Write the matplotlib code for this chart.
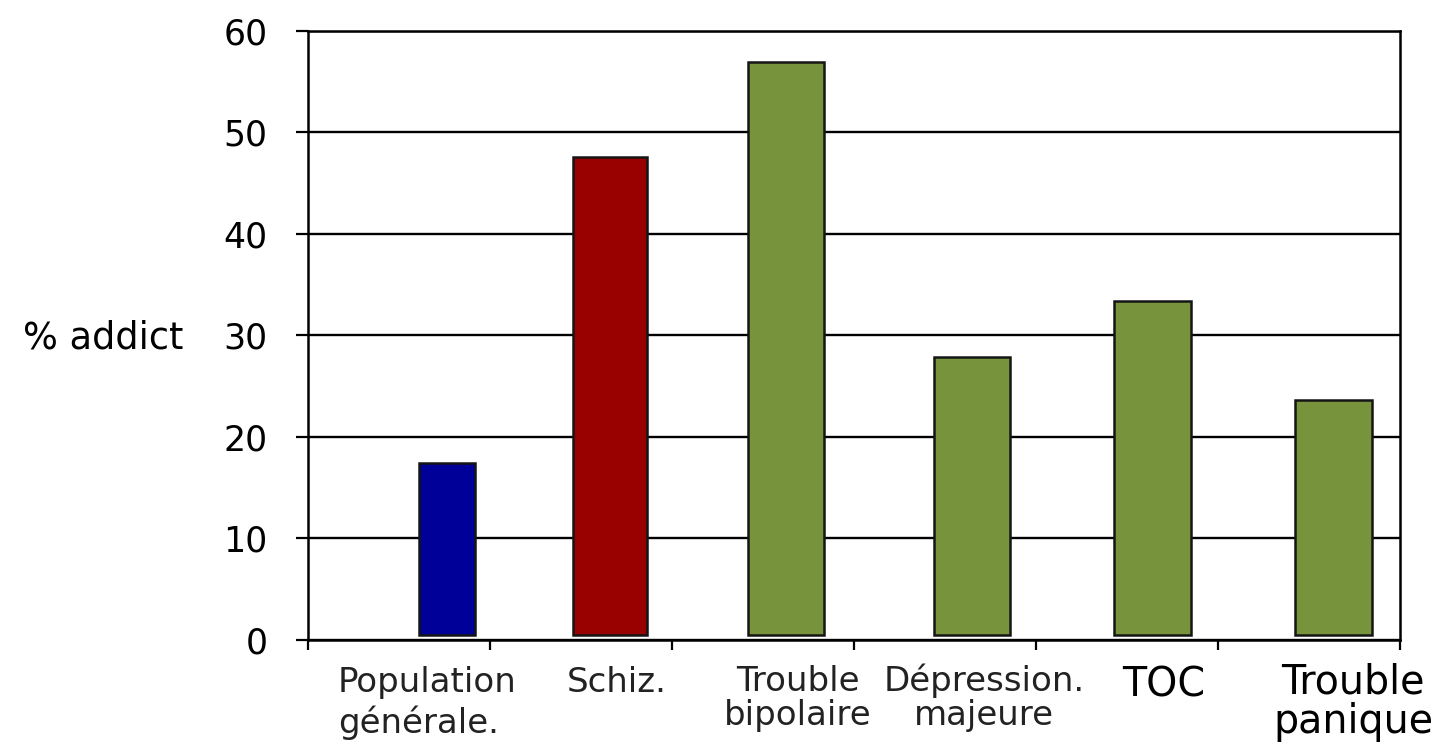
import matplotlib
matplotlib.use("Agg")
import matplotlib.pyplot as plt
from matplotlib.transforms import blended_transform_factory

# Share of patients with an addiction, by diagnosis (%)
categories = ["Population\ngénérale.", "Schiz.", "Trouble\nbipolaire",
              "Dépression.\nmajeure", "TOC", "Trouble\npanique"]
values = [17.4, 47.6, 56.9, 27.9, 33.4, 23.6]
colors = ["#000099", "#990000", "#77933C", "#77933C", "#77933C", "#77933C"]
yticks = [0, 10, 20, 30, 40, 50, 60]

# layout: bar centre shift inside each category slot, bar widths
bar_shift = [0.264, 0.159, 0.126, 0.148, 0.140, 0.135]
bar_width = [0.31, 0.41, 0.42, 0.42, 0.42, 0.42]
bar_base = 0.5

plt.rcParams['font.family'] = ['DejaVu Sans']

fig = plt.figure(figsize=(14.35, 7.46), dpi=100)
ax = fig.add_axes([308 / 1435, 106 / 746, 1092 / 1435, 609.3 / 746])

xs = [i + s for i, s in enumerate(bar_shift)]
ax.bar(xs, [v - bar_base for v in values], bottom=bar_base, width=bar_width,
       color=colors, edgecolor="#151515", linewidth=1.8, zorder=3)

ax.set_xlim(-0.5, len(categories) - 0.5)
ax.set_ylim(0, 60)
ax.set_yticks(yticks)
ax.set_yticklabels([str(t) for t in yticks], fontsize=25)
ax.yaxis.grid(True, color="black", linewidth=1.7, zorder=0)
ax.set_axisbelow(True)
ax.tick_params(axis="y", length=9, width=1.6, pad=20, direction="out")

# category boundary ticks on the x axis
ax.set_xticks([i - 0.5 for i in range(len(categories) + 1)])
ax.set_xticklabels([])
ax.tick_params(axis="x", length=7.5, width=1.6, direction="out")

for sp in ax.spines.values():
    sp.set_linewidth(1.8)
    sp.set_color("black")

ax.set_ylabel("% addict", rotation=0, fontsize=26.5, ha="right", va="baseline")
ax.yaxis.set_label_coords(-0.1145, 0.479)

# category labels below the axis:
# (x anchor, alignment, last-line baseline, line spacing, size, colour)
trans = blended_transform_factory(ax.transData, ax.transAxes)
label_style = [
    (-0.335, "left", -0.1526, 1.23, 24.5, "#222222"),
    (1.198, "center", -0.0853, 1.0, 24.5, "#222222"),
    (2.19, "center", -0.1395, 1.03, 24.5, "#222222"),
    (3.214, "center", -0.1395, 1.03, 24.5, "#222222"),
    (4.203, "center", -0.0935, 1.0, 28.5, "black"),
    (5.242, "center", -0.1526, 0.99, 28.5, "black"),
]
for text, (x, ha, y, ls, size, col) in zip(categories, label_style):
    ax.text(x, y, text, transform=trans, ha=ha, multialignment=ha,
            va="baseline", linespacing=ls, fontsize=size, color=col,
            clip_on=False)

fig.savefig("out.png", dpi=100)
